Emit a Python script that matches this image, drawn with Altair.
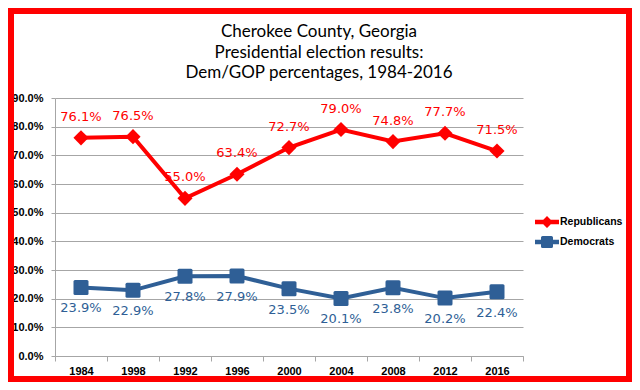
import altair as alt
import pandas as pd

years = ["1984", "1998", "1992", "1996", "2000", "2004", "2008", "2012", "2016"]
rep = [76.1, 76.5, 55.0, 63.4, 72.7, 79.0, 74.8, 77.7, 71.5]
dem = [23.9, 22.9, 27.8, 27.9, 23.5, 20.1, 23.8, 20.2, 22.4]
series = ["Republicans", "Democrats"]
title_lines = ["Cherokee County, Georgia", "Presidential election results:", "Dem/GOP percentages, 1984-2016"]

RED = "#ff0000"
BLUE = "#2f5f96"

rows = []
for y, r, d in zip(years, rep, dem):
    rows.append({"year": y, "series": "Republicans", "value": r / 100})
    rows.append({"year": y, "series": "Democrats", "value": d / 100})
df = pd.DataFrame(rows)

W, H = 468, 258
PL, PT, PR, PB = 47, 90, 109, 26

x_enc = alt.X("year:N", sort=years,
              scale=alt.Scale(paddingInner=0, paddingOuter=0),
              axis=alt.Axis(title=None, labelAngle=0, tickBand="extent", grid=False,
                            domainColor="#a6a6a6", tickColor="#a6a6a6", tickSize=5,
                            labelPadding=4, labelFont="Liberation Sans", labelFontWeight="bold",
                            labelFontSize=11, labelColor="#000000"))
y_enc = alt.Y("value:Q",
              scale=alt.Scale(domain=[0, 0.9], nice=False),
              axis=alt.Axis(title=None, values=[i / 10 for i in range(10)], format=".1%",
                            grid=True, gridColor="#a6a6a6", domainColor="#a6a6a6",
                            tickColor="#a6a6a6", tickSize=4, labelPadding=8,
                            labelFont="Liberation Sans", labelFontWeight="bold",
                            labelFontSize=11, labelColor="#000000"))

color_scale = alt.Scale(domain=series, range=[RED, BLUE])

base = alt.Chart(df)
rep_d = base.transform_filter(alt.datum.series == "Republicans")
dem_d = base.transform_filter(alt.datum.series == "Democrats")

rep_line = rep_d.mark_line(strokeWidth=4, color=RED).encode(x=x_enc, y=y_enc)
dem_line = dem_d.mark_line(strokeWidth=4, color=BLUE).encode(x=x_enc, y=y_enc)

rounded_sq = "M-0.8,-1H0.8Q1,-1 1,-0.8V0.8Q1,1 0.8,1H-0.8Q-1,1 -1,0.8V-0.8Q-1,-1 -0.8,-1Z"

rep_pts = rep_d.mark_point(
    shape="diamond", filled=True, size=230, color=RED, opacity=1).encode(x=x_enc, y=y_enc)
dem_pts = dem_d.mark_point(
    shape=rounded_sq, filled=True, size=225, color=BLUE, opacity=1).encode(x=x_enc, y=y_enc)

rep_lbl = rep_d.mark_text(
    dy=-21, font="DejaVu Sans", fontSize=13, color=RED).encode(
    x=x_enc, y=y_enc, text=alt.Text("value:Q", format=".1%"))
dem_lbl = dem_d.mark_text(
    dy=21, font="DejaVu Sans", fontSize=13, color=BLUE).encode(
    x=x_enc, y=y_enc, text=alt.Text("value:Q", format=".1%"))

leg_rep = "M-1.5,-0.28H1.5V0.28H-1.5Z M0,-0.75L0.75,0L0,0.75L-0.75,0Z"
leg_dem = "M-1.5,-0.28H1.5V0.28H-1.5Z M-0.55,-0.75H0.55Q0.75,-0.75 0.75,-0.55V0.55Q0.75,0.75 0.55,0.75H-0.55Q-0.75,0.75 -0.75,0.55V-0.55Q-0.75,-0.75 -0.55,-0.75Z"

legend = alt.Legend(orient="none", legendX=484, legendY=116, title=None, padding=0,
                    symbolSize=256, symbolOpacity=1, symbolStrokeWidth=0,
                    rowPadding=6, labelOffset=5, labelFont="Liberation Sans",
                    labelFontWeight="bold", labelFontSize=10.5, labelColor="#000000")
leg_layer = base.mark_point(filled=True, size=0).encode(
    x=x_enc, y=y_enc,
    color=alt.Color("series:N", scale=color_scale, legend=legend),
    shape=alt.Shape("series:N", scale=alt.Scale(domain=series, range=[leg_rep, leg_dem]), legend=legend))

one = alt.Data(values=[{"a": 1}])
border = alt.Chart(one).mark_rect(fill="transparent", stroke=RED, strokeWidth=6).encode(
    x=alt.value(-PL + 3), x2=alt.value(W + PR - 3),
    y=alt.value(-PT + 3), y2=alt.value(H + PB - 3))

title_layers = []
for i, t in enumerate(title_lines):
    title_layers.append(alt.Chart(one).mark_text(
        text=t, font="Lato", fontSize=17, color="#000000", baseline="middle", align="center").encode(
        x=alt.value(264), y=alt.value(-66 + 20.5 * i)))

chart = alt.layer(rep_line, dem_line, rep_pts, dem_pts, rep_lbl, dem_lbl, leg_layer, border, *title_layers).properties(
    width=W, height=H,
    padding={"left": PL, "top": PT, "right": PR, "bottom": PB},
    autosize=alt.AutoSizeParams(type="none"),
    background="white",
).configure_view(stroke=None)

chart.save("out.html", embed_options={"renderer": "svg", "actions": False})
